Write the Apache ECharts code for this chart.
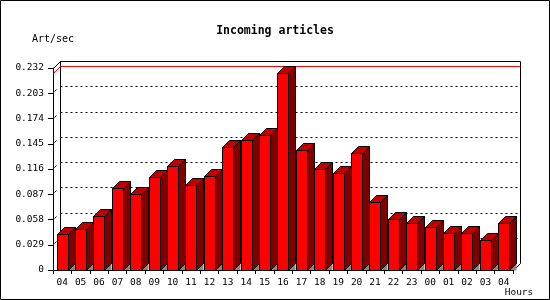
<!DOCTYPE html>
<html>
<head>
<meta charset="utf-8">
<script src="https://cdn.jsdelivr.net/npm/echarts@6/dist/echarts.min.js"></script>
<style>
html,body{margin:0;padding:0;background:#fff;}
#c{width:550px;height:300px;}
</style>
</head>
<body>
<div id="c"></div>
<script>
const hours = ['04','05','06','07','08','09','10','11','12','13','14','15','16','17','18','19','20','21','22','23','00','01','02','03','04'];
const artPerSec = [0.0413,0.0468,0.0620,0.0942,0.0869,0.1064,0.1191,0.0973,0.1076,0.1409,0.1489,0.1547,0.2259,0.1375,0.1160,0.1110,0.1341,0.0778,0.0582,0.0536,0.0490,0.0421,0.0421,0.0341,0.0536];
const yTickLabels = ['0','0.029','0.058','0.087','0.116','0.145','0.174','0.203','0.232'];
const yStep = 0.029;
const yMax = 0.232;

const FONT = 'DejaVu Sans Mono';
const D = 7;
const px = v => Math.round(v) + 0.5;

const chart = echarts.init(document.getElementById('c'), null, {renderer:'canvas'});

function frameItem(params, api) {
  const cs = params.coordSys;
  const x0 = px(cs.x), x1 = px(cs.x + cs.width);
  const yT = px(cs.y), yB = px(cs.y + cs.height);
  const children = [];
  children.push({type:'polyline', shape:{points:[[x0+D,yB-D],[x0+D,yT-D],[x1+D,yT-D],[x1+D,yB-D],[x1,yB]]},
    style:{stroke:'#000',lineWidth:1,fill:null}});
  children.push({type:'line', shape:{x1:x0,y1:yT,x2:x0+D,y2:yT-D}, style:{stroke:'#000',lineWidth:1}});
  for (let k = 1; k < yTickLabels.length - 1; k++) {
    const y = px(api.coord([0, k*yStep])[1]);
    children.push({type:'line', shape:{x1:x0+D,y1:y-D,x2:x1+D,y2:y-D}, style:{stroke:'#000',lineWidth:1,lineDash:[2,3]}});
    children.push({type:'line', shape:{x1:x0+1,y1:y-2,x2:x0+3,y2:y-4}, style:{stroke:'#000',lineWidth:1}});
  }
  const maxV = Math.max.apply(null, artPerSec);
  const ym = px(api.coord([0, maxV])[1]);
  children.push({type:'polyline', shape:{points:[[x0,ym],[x0+D,ym-D],[x1+D,ym-D]]}, style:{stroke:'#ff0000',lineWidth:1,fill:null}});
  return {type:'group', children};
}

function barItem(params, api) {
  const i = api.value(0), v = api.value(1);
  const top = api.coord([i, v]);
  const base = api.coord([i, 0]);
  const bw = api.size([1, 0])[0];
  const xl = px(top[0] - bw/2 + bw*0.2);
  const w = Math.round(bw*0.6);
  const yt = px(top[1]), yb = px(base[1]);
  const xr = xl + w;
  const st = {stroke:'#000', lineWidth:1};
  return {type:'group', children:[
    {type:'polygon', shape:{points:[[xr,yb],[xr+D,yb-D],[xr+D,yb]]}, style:{fill:'#888888'}},
    {type:'polygon', shape:{points:[[xr,yt],[xr+D,yt-D],[xr+D,yb-D],[xr,yb]]}, style:Object.assign({fill:'#800000'},st)},
    {type:'polygon', shape:{points:[[xl,yt],[xr,yt],[xr+D,yt-D],[xl+D,yt-D]]}, style:Object.assign({fill:'#c00000'},st)},
    {type:'rect', shape:{x:xl,y:yt,width:w,height:yb-yt}, style:Object.assign({fill:'#ff0000'},st)}
  ]};
}

chart.setOption({
  backgroundColor:'#fff',
  animation:false,
  title:{text:'Incoming articles', left:'center', top:20,
    textStyle:{fontFamily:FONT, fontWeight:'bold', fontSize:11.5, color:'#000'}},
  grid:{left:53, right:37, top:68, bottom:30},
  xAxis:{type:'category', data:hours, boundaryGap:true,
    name:'Hours', nameLocation:'end', nameGap:6,
    nameTextStyle:{fontFamily:FONT, fontSize:9.5, color:'#000', align:'center', verticalAlign:'top', padding:[18,0,0,0]},
    axisLine:{lineStyle:{color:'#000', width:1}},
    axisTick:{show:true, length:4, lineStyle:{color:'#000'}},
    axisLabel:{fontFamily:FONT, fontSize:9.5, color:'#000', margin:8, interval:0},
    splitLine:{show:false}, z:10},
  yAxis:{type:'value', min:0, max:yMax, interval:yStep,
    name:'Art/sec', nameLocation:'end', nameGap:24,
    nameTextStyle:{fontFamily:FONT, fontSize:10, color:'#000', align:'center'},
    axisLine:{show:true, lineStyle:{color:'#000', width:1}},
    axisTick:{show:true, length:5, lineStyle:{color:'#000'}},
    axisLabel:{fontFamily:FONT, fontSize:9.5, color:'#000', margin:9,
      formatter:function(v){return yTickLabels[Math.round(v/yStep)];}},
    splitLine:{show:false}},
  graphic:[{type:'rect', shape:{x:0.5,y:0.5,width:549,height:299}, style:{fill:null, stroke:'#000', lineWidth:1}, z:100}],
  series:[
    {type:'custom', renderItem:frameItem, data:[[0,0]], clip:false, z:1, silent:true},
    {type:'custom', renderItem:barItem, data:artPerSec.map((v,i)=>[i,v]), clip:false, z:2, silent:true,
      encode:{x:0, y:1}}
  ]
});
</script>
</body>
</html>
